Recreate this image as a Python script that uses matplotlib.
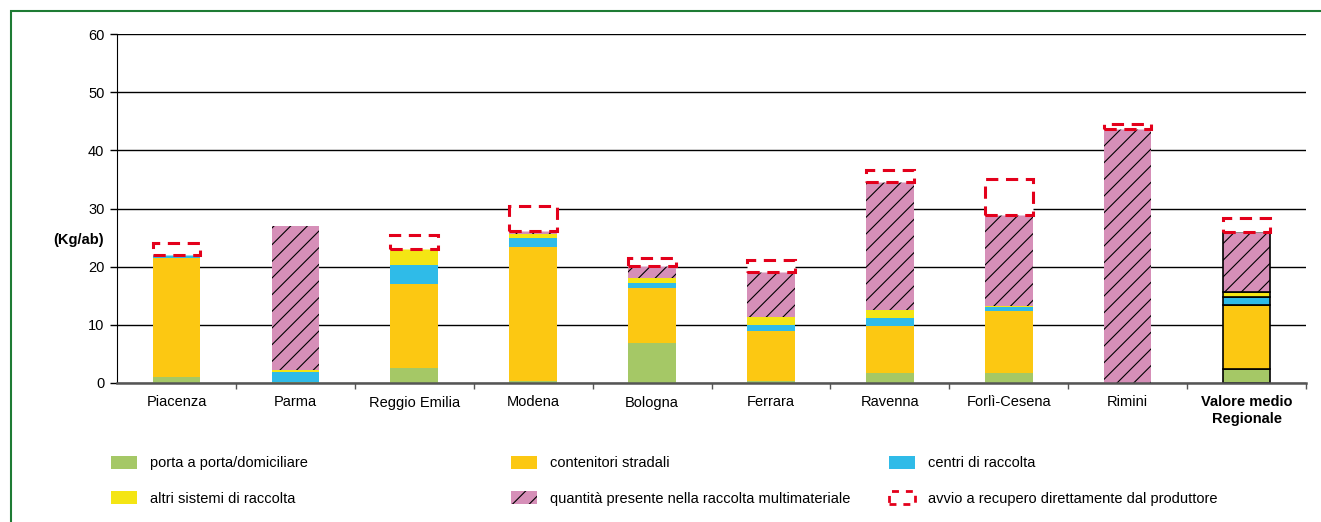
import matplotlib.pyplot as plt
from matplotlib.patches import Patch, Rectangle
import numpy as np

plt.rcParams['font.family'] = ['Liberation Sans Narrow', 'Liberation Sans', 'DejaVu Sans']
plt.rcParams['hatch.linewidth'] = 0.8

province = ['Piacenza', 'Parma', 'Reggio Emilia', 'Modena', 'Bologna', 'Ferrara',
            'Ravenna', 'Forlì-Cesena', 'Rimini', 'Valore medio\nRegionale']

# kg/abitante per sistema di raccolta
porta_a_porta = [1.0, 0.1, 2.6, 0.4, 6.9, 0.3, 1.8, 1.8, 0.0, 2.35]
contenitori   = [20.5, 0.0, 14.4, 22.9, 9.5, 8.6, 8.0, 10.5, 0.0, 11.05]
centri        = [0.5, 1.8, 3.3, 1.7, 0.8, 1.1, 1.4, 0.8, 0.0, 1.4]
altri         = [0.0, 0.3, 2.7, 0.6, 0.9, 1.3, 1.3, 0.2, 0.0, 0.9]
multimateriale = [0.0, 24.8, 0.0, 0.6, 2.0, 7.7, 22.1, 15.6, 43.6, 10.2]
produttore    = [2.0, 0.0, 2.4, 4.3, 1.4, 2.1, 2.1, 6.1, 0.9, 2.5]

colori = {'porta': '#a5c866', 'cont': '#fcc812', 'centri': '#2fbbe8',
          'altri': '#f4e514', 'multi': '#d68fb8', 'prod': '#e3001b'}

fig = plt.figure(figsize=(13.21, 5.22), dpi=100)
ax = fig.add_axes([117 / 1321, 1 - 383 / 522, (1306 - 117) / 1321, (383 - 34) / 522])

x = np.arange(len(province))
w = 0.40
bottom = np.zeros(len(province))
# bordo nero solo sul valore medio regionale
ec = ['none'] * (len(province) - 1) + ['black']
lw = [0] * (len(province) - 1) + [1.2]

serie = [(porta_a_porta, 'porta'), (contenitori, 'cont'), (centri, 'centri'), (altri, 'altri')]
for vals, k in serie:
    ax.bar(x, vals, w, bottom=bottom, color=colori[k], edgecolor=ec, linewidth=lw, zorder=3)
    bottom += np.array(vals)

bars = ax.bar(x, multimateriale, w, bottom=bottom, color=colori['multi'], edgecolor='black',
              linewidth=0, hatch='//', zorder=3)
bars[-1].set_linewidth(1.2)
bottom += np.array(multimateriale)

for xi, b, h in zip(x, bottom, produttore):
    if h <= 0:
        continue
    ax.bar(xi, h, w, bottom=b, facecolor='white', edgecolor=colori['prod'], linewidth=2.2,
           linestyle=(0, (4, 2.5)), zorder=4)

ax.set_xlim(-0.5, len(province) - 0.5)
ax.set_ylim(0, 60)
ax.set_yticks(range(0, 61, 10))
ax.yaxis.grid(True, color='black', linewidth=1)
ax.set_axisbelow(True)
ax.tick_params(axis='y', length=5, width=1, labelsize=10.5, pad=4)

ax.set_xticks(x)
ax.set_xticklabels(province, fontsize=10.5)
ax.get_xticklabels()[-1].set_fontweight('bold')
ax.set_xticks(np.arange(0.5, len(province) - 0.5 + 0.01, 1), minor=True)
ax.tick_params(axis='x', which='major', length=0, pad=9)
ax.tick_params(axis='x', which='minor', length=4, width=1, color='#555555')

for s in ['top', 'right']:
    ax.spines[s].set_visible(False)
ax.spines['left'].set_color('black')
ax.spines['bottom'].set_color('#555555')
ax.spines['bottom'].set_linewidth(1.8)
ax.spines['bottom'].set_zorder(5)

fig.text(79 / 1321, 1 - 240 / 522, '(Kg/ab)', fontsize=10.5, fontweight='bold',
         ha='center', va='center')

colonne = [
    [Patch(facecolor=colori['porta'], label='porta a porta/domiciliare'),
     Patch(facecolor=colori['altri'], label='altri sistemi di raccolta')],
    [Patch(facecolor=colori['cont'], label='contenitori stradali'),
     Patch(facecolor=colori['multi'], edgecolor='black', linewidth=0, hatch='//',
           label='quantità presente nella raccolta multimateriale')],
    [Patch(facecolor=colori['centri'], label='centri di raccolta'),
     Patch(facecolor='white', edgecolor=colori['prod'], linewidth=2, linestyle=(0, (2.5, 2.5)),
           label='avvio a recupero direttamente dal produttore')],
]
for xpos, h in zip([111, 511, 889], colonne):
    fig.legend(handles=h, loc='upper left', bbox_to_anchor=(xpos / 1321, 1 - 456 / 522),
               frameon=False, fontsize=10.5, handlelength=1.8, handleheight=0.95,
               handletextpad=0.9, labelspacing=1.45, borderaxespad=0, borderpad=0)

fig.add_artist(Rectangle((11 / 1321, -0.1), 1.2, 1.1 - 11 / 522, transform=fig.transFigure,
                         fill=False, edgecolor='#1e7b34', linewidth=1.5))

fig.savefig('out.png', dpi=100)
